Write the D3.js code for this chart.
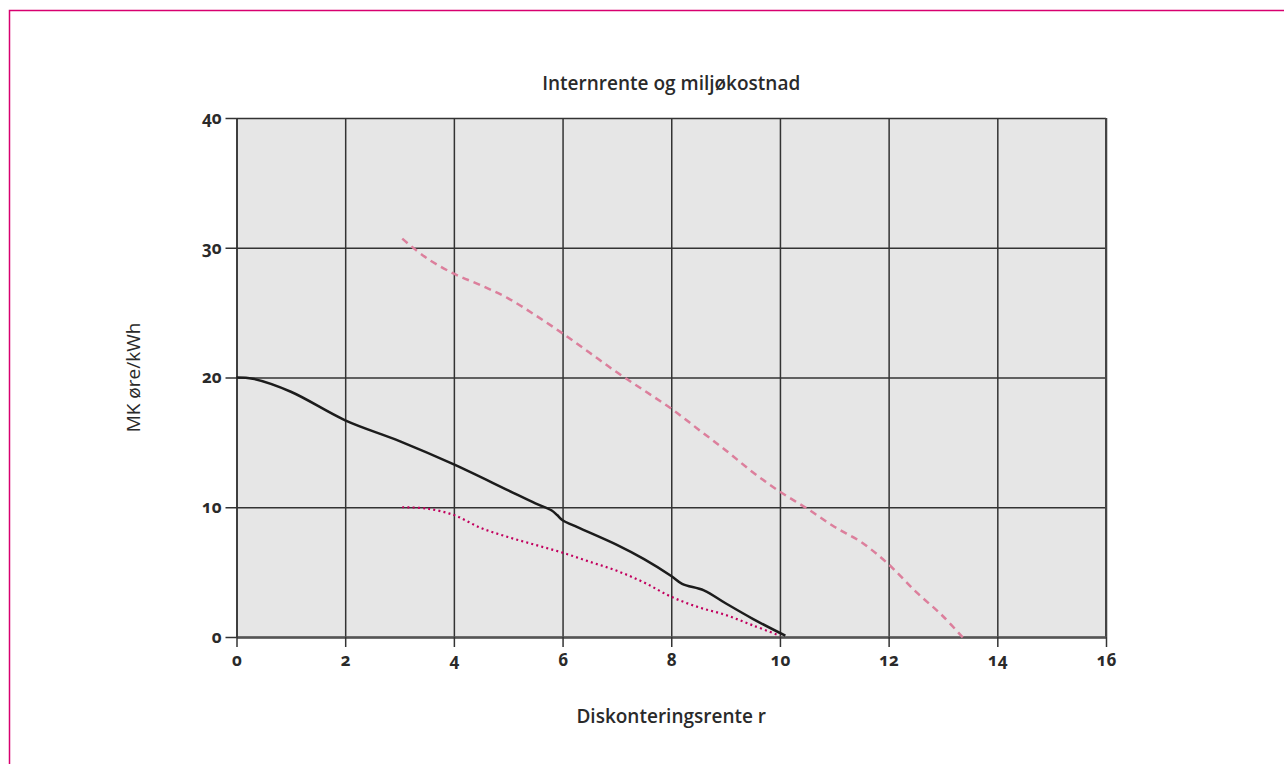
<!DOCTYPE html>
<html>
<head>
<meta charset="utf-8">
<script src="https://cdnjs.cloudflare.com/ajax/libs/d3/7.8.5/d3.min.js"></script>
<style>
  body { margin: 0; background: #fff; }
  svg { display: block; font-family: "Open Sans", Lato, sans-serif; }
  .tick text { font-family: "Open Sans", Lato, sans-serif; font-size: 17px; font-weight: 700; fill: #2a2a2a; font-variant-numeric: oldstyle-nums; }
</style>
</head>
<body>
<div id="chart"></div>
<script>
// discount rate (x) and environmental cost MK (y)
const solidX = [0, 0.3, 1, 2, 3, 4, 5, 5.5, 5.8, 5.9, 6, 6.2, 7, 7.5, 8, 8.2, 8.6, 9, 9.5, 10.1];
const solidY = [20, 19.9, 18.9, 16.7, 15.1, 13.3, 11.3, 10.3, 9.75, 9.4, 9.0, 8.6, 7.1, 6.0, 4.7, 4.1, 3.6, 2.6, 1.4, 0.1];

const dottedX = [3.05, 3.5, 4, 4.5, 5, 5.5, 6, 6.5, 7, 7.5, 8, 8.5, 9, 9.5, 10];
const dottedY = [10, 9.9, 9.4, 8.4, 7.7, 7.1, 6.5, 5.8, 5.1, 4.2, 3.1, 2.3, 1.7, 0.9, 0.1];

const dashedX = [3.05, 3.5, 4, 4.5, 5, 5.5, 6, 6.5, 7, 7.5, 8, 8.5, 9, 9.5, 10, 10.5, 11, 11.5, 12, 12.5, 13, 13.4];
const dashedY = [30.7, 29.2, 28.0, 27.1, 26.1, 24.8, 23.4, 21.9, 20.4, 19.0, 17.6, 16.0, 14.4, 12.7, 11.2, 9.9, 8.5, 7.3, 5.6, 3.5, 1.6, -0.2];

const xTicks = [0, 2, 4, 6, 8, 10, 12, 14, 16];
const yTicks = [0, 10, 20, 30, 40];

const W = 1284, H = 764;
const margin = { top: 118, right: 178, bottom: 127, left: 236.5 },
    width = W - margin.left - margin.right,
    height = H - margin.top - margin.bottom;

const root = d3.select('#chart').append('svg')
    .attr('width', W)
    .attr('height', H);

// magenta frame
root.append('rect')
    .attr('x', 9.5).attr('y', 10.5)
    .attr('width', 1400).attr('height', 900)
    .attr('fill', 'none')
    .attr('stroke', '#d8006f')
    .attr('stroke-width', 1.5);

const svg = root.append('g')
    .attr('transform', 'translate(' + margin.left + ',' + margin.top + ')');

const xScale = d3.scaleLinear().domain([0, 16]).range([0, width]);
const yScale = d3.scaleLinear().domain([0, 40]).range([height, 0]);

svg.append('rect')
    .attr('width', width).attr('height', height)
    .attr('fill', '#e6e6e6');

// grid
svg.append('g')
    .attr('transform', 'translate(0,' + height + ')')
    .call(d3.axisBottom(xScale).tickValues(xTicks).tickSize(-height).tickFormat(''))
    .call(g => g.select('.domain').remove())
    .call(g => g.selectAll('line').attr('stroke', '#333').attr('stroke-width', 1.5));

svg.append('g')
    .call(d3.axisLeft(yScale).tickValues(yTicks).tickSize(-width).tickFormat(''))
    .call(g => g.select('.domain').remove())
    .call(g => g.selectAll('line').attr('stroke', '#333').attr('stroke-width', 1.5));

svg.append('line')
    .attr('x1', width).attr('x2', width)
    .attr('y1', 0).attr('y2', height)
    .attr('stroke', '#444').attr('stroke-width', 2);

// axes
const xAxis = svg.append('g')
    .attr('transform', 'translate(0,' + height + ')')
    .call(d3.axisBottom(xScale).tickValues(xTicks).tickSize(10).tickSizeOuter(0).tickPadding(7));
xAxis.select('.domain').attr('stroke', '#555').attr('stroke-width', 2.5);
xAxis.selectAll('line').attr('stroke', '#333').attr('stroke-width', 1.5);

const yAxis = svg.append('g')
    .call(d3.axisLeft(yScale).tickValues(yTicks).tickSize(11).tickSizeOuter(0).tickPadding(4));
yAxis.select('.domain').attr('stroke', '#333').attr('stroke-width', 1.5);
yAxis.selectAll('line').attr('stroke', '#333').attr('stroke-width', 1.5);

// lines
const line = d3.line()
    .x(d => xScale(d[0]))
    .y(d => yScale(d[1]))
    .curve(d3.curveCatmullRom.alpha(0.5));

svg.append('clipPath').attr('id', 'clip')
    .append('rect').attr('width', width).attr('height', height + 1);

svg.append('path')
    .datum(dashedX.map((x, i) => [x, dashedY[i]]))
    .attr('clip-path', 'url(#clip)')
    .attr('fill', 'none')
    .attr('stroke', '#dc7f9c')
    .attr('stroke-width', 2.5)
    .attr('stroke-dasharray', '7 5')
    .attr('d', line);

svg.append('path')
    .datum(dottedX.map((x, i) => [x, dottedY[i]]))
    .attr('fill', 'none')
    .attr('stroke', '#c2005e')
    .attr('stroke-width', 2.2)
    .attr('stroke-dasharray', '2 3.2')
    .attr('d', line);

svg.append('path')
    .datum(solidX.map((x, i) => [x, solidY[i]]))
    .attr('fill', 'none')
    .attr('stroke', '#1c1c1c')
    .attr('stroke-width', 2.5)
    .attr('d', line);

// titles
root.append('text')
    .attr('x', margin.left + width / 2).attr('y', 90)
    .attr('text-anchor', 'middle')
    .style('font-size', '19px').style('font-weight', 600).style('fill', '#2a2a2a')
    .text('Internrente og miljøkostnad');

root.append('text')
    .attr('x', margin.left + width / 2).attr('y', 723)
    .attr('text-anchor', 'middle')
    .style('font-size', '19px').style('font-weight', 600).style('fill', '#2a2a2a')
    .text('Diskonteringsrente r');

root.append('text')
    .attr('transform', 'translate(140,' + (margin.top + height / 2) + ') rotate(-90)')
    .attr('text-anchor', 'middle')
    .style('font-size', '19px').style('font-weight', 400).style('fill', '#2a2a2a')
    .text('MK øre/kWh');
</script>
</body>
</html>
